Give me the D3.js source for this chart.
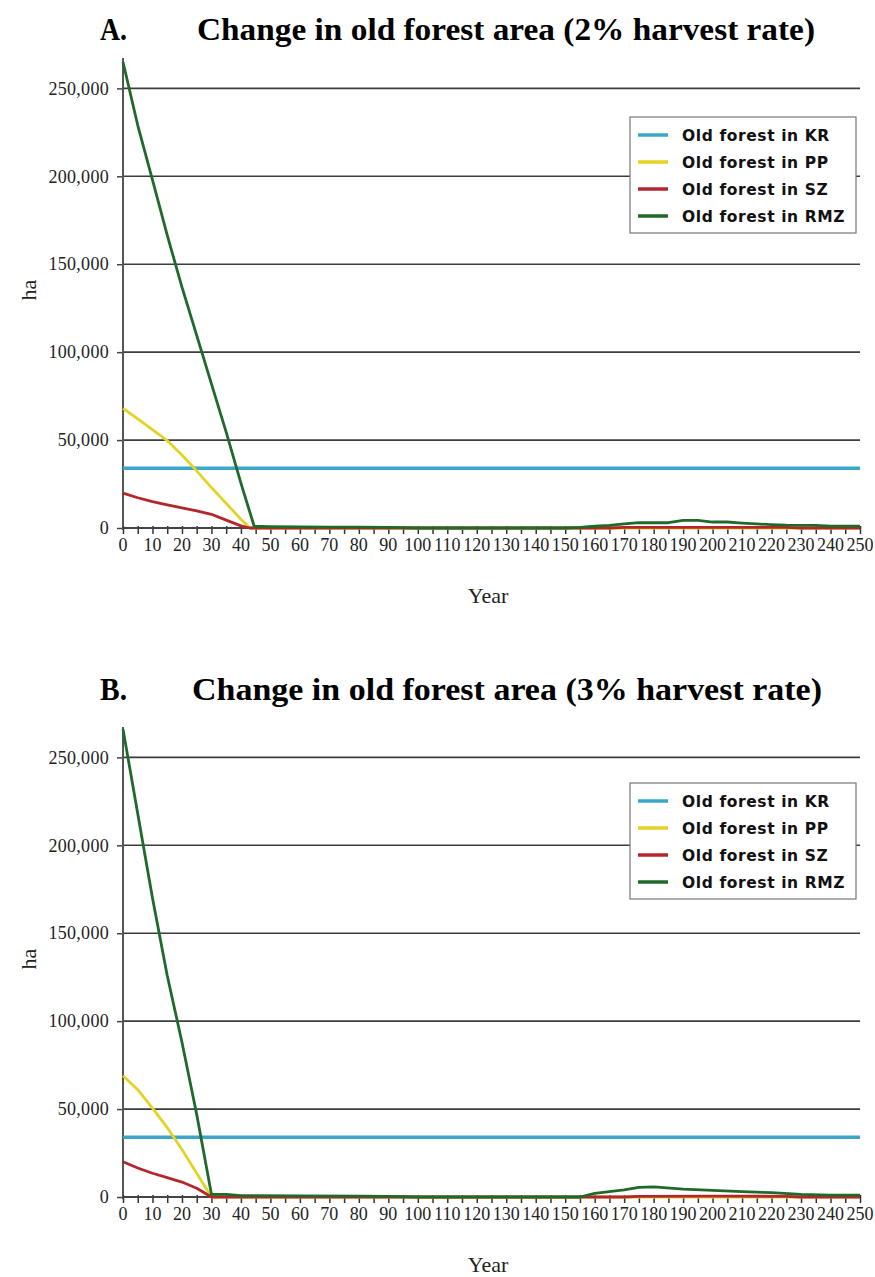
<!DOCTYPE html>
<html>
<head>
<meta charset="utf-8">
<script src="https://cdn.jsdelivr.net/npm/d3@7"></script>
<style>
  body { margin: 0; background: #fff; }
  svg { display: block; }
</style>
</head>
<body>
<script>
// ---- data ----
let seriesNames = ["Old forest in KR", "Old forest in PP", "Old forest in SZ", "Old forest in RMZ"];
let seriesColors = ["#3aa6c8", "#e3d325", "#b3272c", "#1f6a2b"];

// panel A : 2% harvest rate  [year, ha]
let krA = [[0, 34000], [250, 34000]];
let ppA = [[0, 68000], [5, 62000], [10, 56000], [15, 49700], [20, 41500], [25, 32500], [30, 23000], [35, 14000], [40, 5000], [43, 0], [250, 0]];
let szA = [[0, 19800], [5, 17200], [10, 15000], [15, 13200], [20, 11500], [25, 9800], [30, 7800], [35, 4500], [40, 1200], [43, 0], [165, 0], [170, 300], [200, 400], [225, 300], [230, 0], [250, 0]];
let rmzA = [[0, 265000], [5, 229000], [10, 198000], [15, 166500], [20, 137000], [25, 109500], [30, 82000], [35, 54500], [40, 25500], [44.5, 1000], [50, 800], [60, 600], [70, 500], [80, 500], [90, 300], [100, 0], [150, 0], [155, 300], [160, 1000], [165, 1500], [170, 2300], [175, 3000], [185, 3000], [190, 4300], [195, 4300], [200, 3400], [205, 3400], [210, 2800], [215, 2300], [220, 1900], [225, 1600], [235, 1500], [240, 1100], [250, 1100]];

// panel B : 3% harvest rate
let krB = [[0, 34000], [250, 34000]];
let ppB = [[0, 69000], [5, 61000], [10, 50500], [15, 39500], [20, 27000], [25, 13500], [30, 0], [250, 0]];
let szB = [[0, 20000], [5, 16500], [10, 13500], [15, 11000], [20, 8500], [25, 5000], [30, 0], [170, 0], [175, 400], [200, 500], [225, 400], [230, 0], [250, 0]];
let rmzB = [[0, 266000], [5, 218000], [10, 170000], [15, 126000], [20, 88000], [25, 47000], [30, 1500], [35, 1500], [40, 800], [60, 600], [80, 500], [90, 300], [100, 0], [155, 0], [160, 2000], [165, 3000], [170, 4000], [175, 5500], [180, 5800], [190, 4500], [200, 3800], [210, 3000], [220, 2500], [230, 1500], [240, 1100], [250, 1100]];

let yTicks = [0, 50000, 100000, 150000, 200000, 250000];
let xLabels = d3.range(0, 251, 10);
let xMinor = d3.range(0, 251, 5);

let panels = [
  { letter: "A.", title: "Change in old forest area (2% harvest rate)", series: [krA, ppA, szA, rmzA], zeroY: 528, titleY: 40, legendY: 117, titleX: 197, titleW: 618 },
  { letter: "B.", title: "Change in old forest area (3% harvest rate)", series: [krB, ppB, szB, rmzB], zeroY: 1197, titleY: 700, legendY: 783, titleX: 192, titleW: 630 }
];

let width = 875;
let height = 1277;
let serif = "Liberation Serif, Times New Roman, serif";

let svg = d3.select("body")
    .append("svg")
    .attr("width", width)
    .attr("height", height);

let x = d3.scaleLinear().domain([0, 250]).range([123, 860]);

panels.forEach(p => {
    let y = d3.scaleLinear().domain([0, 265000]).range([p.zeroY, p.zeroY - 466]);
    let g = svg.append("g");

    // title
    g.append("text")
        .attr("x", 100).attr("y", p.titleY)
        .attr("font-family", serif)
        .attr("font-weight", "bold").attr("font-size", 32)
        .attr("textLength", 27).attr("lengthAdjust", "spacingAndGlyphs")
        .text(p.letter);
    g.append("text")
        .attr("x", p.titleX).attr("y", p.titleY)
        .attr("font-family", serif)
        .attr("font-weight", "bold").attr("font-size", 32)
        .attr("textLength", p.titleW).attr("lengthAdjust", "spacingAndGlyphs")
        .text(p.title);

    // gridlines
    g.selectAll(".grid")
        .data(yTicks.filter(d => d > 0))
        .enter().append("line")
        .attr("x1", x(0)).attr("x2", x(250))
        .attr("y1", d => y(d)).attr("y2", d => y(d))
        .attr("stroke", "#3c3c3c").attr("stroke-width", 1.6);

    // y axis
    let yAxis = d3.axisLeft(y).tickValues(yTicks).tickSize(6)
        .tickFormat(d3.format(","));
    let ya = g.append("g").attr("transform", `translate(${x(0)},0)`).call(yAxis);
    ya.select(".domain").remove();
    ya.selectAll(".tick line").attr("stroke", "#444").attr("stroke-width", 1.5);
    ya.selectAll(".tick text")
        .attr("x", -14)
        .attr("font-family", serif)
        .attr("font-size", 18).attr("letter-spacing", 0.3)
        .attr("fill", "#222");
    g.append("line")
        .attr("x1", x(0)).attr("x2", x(0))
        .attr("y1", y.range()[1] - 4).attr("y2", p.zeroY + 2)
        .attr("stroke", "#555").attr("stroke-width", 2);

    // x axis
    let xa = g.append("g").attr("transform", `translate(0,${p.zeroY})`)
        .call(d3.axisBottom(x).tickValues(xMinor).tickSize(6).tickFormat(""));
    xa.select(".domain").remove();
    xa.selectAll(".tick line").attr("y1", -2).attr("stroke", "#333").attr("stroke-width", 1.5);
    g.append("line")
        .attr("x1", x(0)).attr("x2", x(250))
        .attr("y1", p.zeroY).attr("y2", p.zeroY)
        .attr("stroke", "#444").attr("stroke-width", 2);
    g.selectAll(".xlab")
        .data(xLabels)
        .enter().append("text")
        .attr("x", d => x(d)).attr("y", p.zeroY + 23)
        .attr("text-anchor", "middle")
        .attr("font-family", serif)
        .attr("font-size", 18)
        .attr("fill", "#222")
        .text(d => d);

    // axis titles
    g.append("text")
        .attr("x", 488).attr("y", p.zeroY + 75)
        .attr("text-anchor", "middle")
        .attr("font-family", serif)
        .attr("font-size", 22).attr("fill", "#222")
        .text("Year");
    g.append("text")
        .attr("transform", `translate(36,${p.zeroY - 238}) rotate(-90)`)
        .attr("text-anchor", "middle")
        .attr("font-family", serif)
        .attr("font-size", 22).attr("fill", "#222")
        .text("ha");

    // series
    let line = d3.line().x(d => x(d[0])).y(d => y(d[1]));
    g.selectAll(".series")
        .data(p.series)
        .enter().append("path")
        .attr("d", line)
        .attr("fill", "none")
        .attr("stroke", (d, i) => seriesColors[i])
        .attr("stroke-width", (d, i) => i === 0 ? 3.5 : 2.8)
        .attr("stroke-linejoin", "round");

    // legend
    let lg = g.append("g").attr("transform", `translate(630,${p.legendY})`);
    lg.append("rect")
        .attr("width", 226).attr("height", 116)
        .attr("fill", "#fff").attr("stroke", "#777").attr("stroke-width", 1.2);
    seriesNames.forEach((name, i) => {
        let yy = 18 + i * 27;
        lg.append("line")
            .attr("x1", 8).attr("x2", 38)
            .attr("y1", yy).attr("y2", yy)
            .attr("stroke", seriesColors[i]).attr("stroke-width", 3.5);
        lg.append("text")
            .attr("x", 52).attr("y", yy + 5.5)
            .attr("font-family", "DejaVu Sans, Verdana, sans-serif")
            .attr("font-weight", "bold").attr("font-size", 15.5)
            .attr("letter-spacing", 0.6)
            .attr("fill", "#111")
            .text(name);
    });
});
</script>
</body>
</html>
